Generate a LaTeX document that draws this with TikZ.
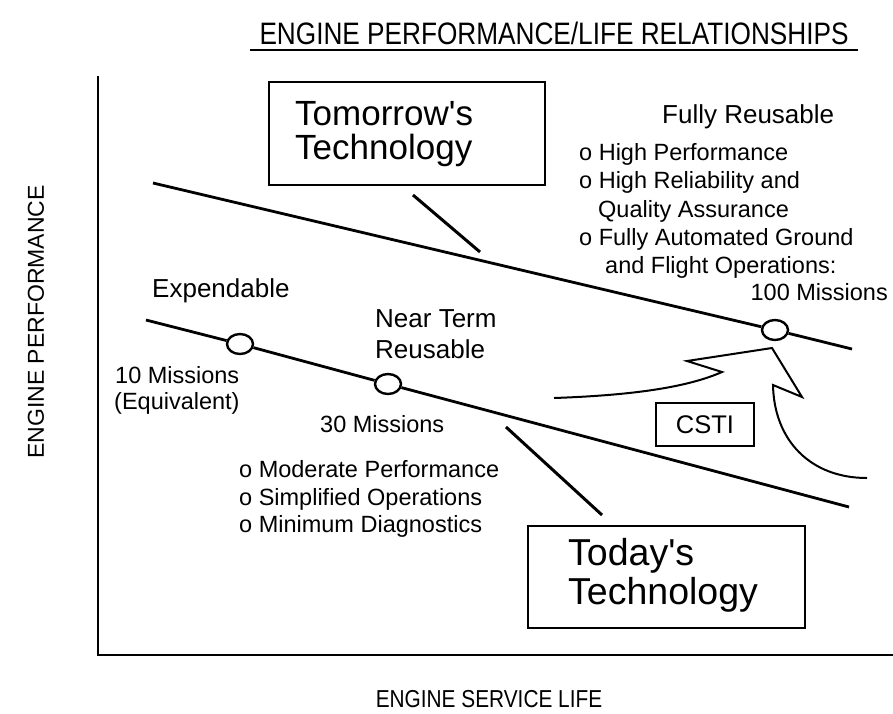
\documentclass[tikz,border=0pt]{standalone}
\usepackage{fontspec}
\setmainfont{Liberation Sans}
\usetikzlibrary{shapes.geometric}

\newcommand{\fsz}[1]{\fontsize{#1}{#1}\selectfont}

\tikzset{
  axisline/.style={line width=2.8pt, line cap=rect},
  techline/.style={line width=2.8pt},
  callout/.style={line width=3pt},
  milestone/.style={ellipse, draw, line width=2.4pt, fill=white,
    minimum width=26pt, minimum height=20pt, inner sep=0pt},
  techbox/.style={draw, line width=2.2pt, rectangle, inner sep=0pt},
  arrowline/.style={line width=2pt, line join=miter},
  lbl/.style={anchor=base west, inner sep=0pt, font=\fsz{23.5}},
  head/.style={anchor=base west, inner sep=0pt, font=\fsz{26}},
  bigtxt/.style={anchor=base west, inner sep=0pt},
}

\begin{document}
\begin{tikzpicture}[x=1pt, y=-1pt]
\useasboundingbox (0,0) rectangle (893,713);

% title with underline
\node[anchor=base, inner sep=0pt, font=\fsz{31}] (title) at (554,44)
  {\scalebox{0.845}[1]{ENGINE PERFORMANCE/LIFE RELATIONSHIPS}};
\coordinate (ulA) at (250,50);
\coordinate (ulB) at (858,50);
\draw[line width=2pt] (ulA) -- (ulB);

% axes
\coordinate (ytop) at (98,77);
\coordinate (origin) at (98,655);
\coordinate (xend) at (893,655);
\draw[axisline] (ytop) -- (origin) -- (xend);
\node[rotate=90, inner sep=0pt, font=\fsz{23}] (ylabel) at (36,322) {ENGINE PERFORMANCE};
\node[anchor=base, inner sep=0pt, font=\fsz{24.5}] (xlabel) at (489,707)
  {\scalebox{0.85}[1]{ENGINE SERVICE LIFE}};

% tomorrow's technology line
\coordinate (upA) at (153,183);
\coordinate (upB) at (852,349);
\node[milestone] (m100) at (775,330) {};
\draw[techline] (upA) -- (m100) -- (upB);

% today's technology line
\coordinate (lowA) at (146,320);
\coordinate (lowB) at (849,507);
\node[milestone] (m10) at (240,344) {};
\node[milestone] (m30) at (388,384) {};
\draw[techline] (lowA) -- (m10) -- (m30) -- (lowB);

% technology boxes and their callout lines
\node[techbox, minimum width=276pt, minimum height=103pt] (tomorrow) at (407,133.5) {};
\node[bigtxt, font=\fsz{35}] (tom1) at (295,125) {Tomorrow\textquotesingle s};
\node[bigtxt, font=\fsz{35}] (tom2) at (295,159) {Technology};
\coordinate (tcA) at (413,195);
\coordinate (tcB) at (480,252);
\draw[callout] (tcA) -- (tcB);

\node[techbox, minimum width=277pt, minimum height=102pt] (today) at (666.5,577) {};
\node[bigtxt, font=\fsz{37.5}] (tod1) at (568,565) {Today\textquotesingle s};
\node[bigtxt, font=\fsz{37.5}] (tod2) at (568,604) {Technology};
\coordinate (dcA) at (506,427);
\coordinate (dcB) at (602,515);
\draw[callout] (dcA) -- (dcB);

% CSTI box and upward arrow
\node[techbox, minimum width=98pt, minimum height=43pt, font=\fsz{25.5}] (csti) at (705,424.5) {CSTI};
\coordinate (csA) at (554,398);
\coordinate (csB) at (722,372);
\coordinate (csC) at (687,361);
\coordinate (csD) at (772,348);
\coordinate (csE) at (802,397);
\coordinate (csF) at (773,385);
\coordinate (csG) at (867,478);
\draw[arrowline] (csA) .. controls (640,395) and (690,386) .. (csB) -- (csC) -- (csD)
  -- (csE) -- (csF) .. controls (774,440) and (810,478) .. (csG);

% expendable / near term labels
\node[head] (expend) at (152,297) {Expendable};
\node[lbl] (m10a) at (115,383) {10 Missions};
\node[lbl] (m10b) at (114,409) {(Equivalent)};
\node[head] (near1) at (375,327) {Near Term};
\node[head] (near2) at (375,358) {Reusable};
\node[lbl] (m30a) at (320,432) {30 Missions};
\node[lbl] (todB1) at (239,477) {o Moderate Performance};
\node[lbl] (todB2) at (239,505) {o Simplified Operations};
\node[lbl] (todB3) at (239,532) {o Minimum Diagnostics};

% fully reusable labels
\node[head] (fully) at (662,123) {Fully Reusable};
\node[lbl] (tomB1) at (579,160) {o High Performance};
\node[lbl] (tomB2) at (579,188) {o High Reliability and};
\node[lbl] (tomB2b) at (598,217) {Quality Assurance};
\node[lbl] (tomB3) at (579,245) {o Fully Automated Ground};
\node[lbl] (tomB3b) at (605,273) {and Flight Operations:};
\node[lbl, anchor=base east] (m100a) at (888,300) {100 Missions};
\end{tikzpicture}
\end{document}
